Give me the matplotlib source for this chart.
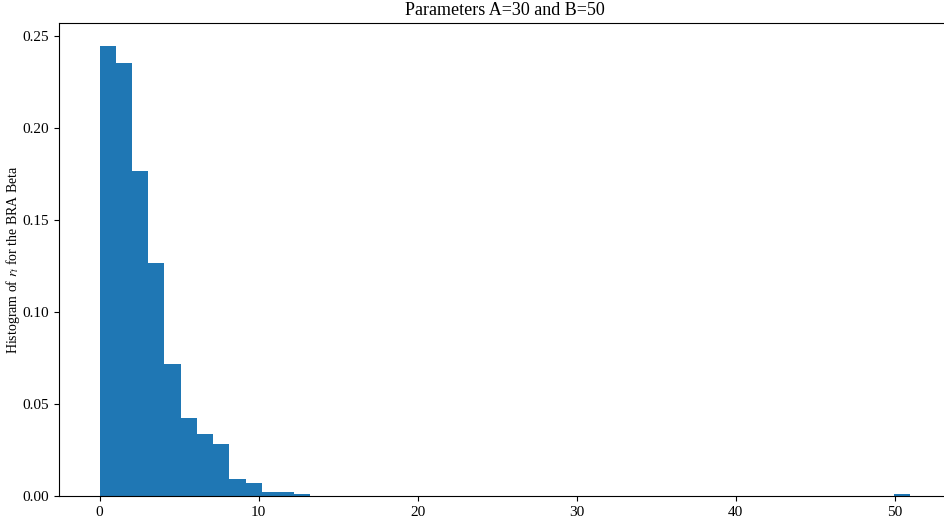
import numpy as np
import matplotlib.pyplot as plt

plt.rcParams['font.family'] = ['Liberation Serif', 'DejaVu Serif']
plt.rcParams['mathtext.fontset'] = 'stix'
plt.rcParams['font.size'] = 11

# bin edges: 50 bins over [0, 51]
bin_edges = np.linspace(0, 51, 51)
# density, one value per bin
density = [0.245, 0.2355, 0.1765, 0.1266, 0.0717, 0.0422, 0.0335, 0.0284,
           0.0091, 0.0069, 0.0020, 0.0020, 0.0009] + [0.0] * 36 + [0.0009]

fig = plt.figure(figsize=(9.45, 5.17), dpi=100)
ax = fig.add_axes([59 / 945, 21 / 517, (951 - 59) / 945, (496 - 23) / 517])
ax.hist(bin_edges[:-1], bins=bin_edges, weights=density, color='#1f77b4')
ax.set_title('Parameters A=30 and B=50', fontsize=13)
ax.set_ylabel(r'Histogram of $r_t$ for the BRA Beta', fontsize=10)
ax.yaxis.set_label_coords(-0.041, 0.5)
fig.savefig('out.png', dpi=100)
